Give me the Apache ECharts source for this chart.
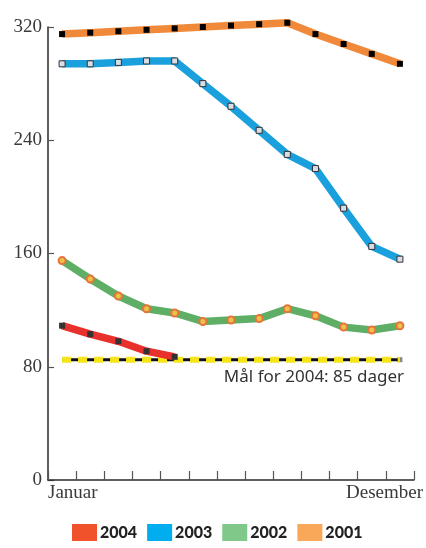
<!DOCTYPE html>
<html><head><meta charset="utf-8">
<script src="https://cdn.jsdelivr.net/npm/echarts@6/dist/echarts.min.js"></script>
<style>html,body{margin:0;padding:0;background:#fff}#c{width:426px;height:548px}</style>
</head><body><div id="c"></div>
<script>
const periods = ['1','2','3','4','5','6','7','8','9','10','11','12','13'];
const s2001 = [315, 316, 317, 318, 319, 320, 321, 322, 323, 315, 308, 301, 294];
const s2003 = [294, 294, 295, 296, 296, 280, 264, 247, 230, 220, 192, 165, 156];
const s2002 = [155, 142, 130, 121, 118, 112, 113, 114, 121, 116, 108, 106, 109];
const s2004 = [109, 103, 98, 91, 87];
const targetValue = 85;
const target = periods.map(() => targetValue);
const yTicks = [0, 80, 160, 240, 320];
const firstLabel = 'Januar', lastLabel = 'Desember';
const targetText = 'Mål for 2004: 85 dager';
const legendNames = ['2004', '2003', '2002', '2001'];

const chart = echarts.init(document.getElementById('c'));
const serif = 'Liberation Serif';
const axisCol = '#2a2a2a';
chart.setOption({
  animation: false,
  grid: { left: 48, right: 10, top: 27, bottom: 68 },
  xAxis: [
    { type: 'category', data: periods, boundaryGap: true, position: 'bottom', z: 10,
      axisLine: { show: true, lineStyle: { color: axisCol, width: 1.5 } },
      axisTick: { show: true, interval: 0, inside: true, length: 9, lineStyle: { color: '#555', width: 1.2 } },
      axisLabel: { show: true, interval: 0, formatter: () => '' }, splitLine: { show: false } },
    { type: 'value', min: 0, max: 13, interval: 13, position: 'bottom',
      axisLine: { show: false }, axisTick: { show: false }, splitLine: { show: false },
      axisLabel: { align: 'left', margin: 4, color: '#3a3a3a', fontFamily: serif, fontSize: 19,
        formatter: v => v === 0 ? firstLabel : '' } },
    { type: 'value', min: 0, max: 13, interval: 13, position: 'bottom',
      axisLine: { show: false }, axisTick: { show: false }, splitLine: { show: false },
      axisLabel: { align: 'right', margin: 4, padding: [0, -9, 0, 0], color: '#3a3a3a', fontFamily: serif, fontSize: 19,
        formatter: v => v === 13 ? lastLabel : '' } }
  ],
  yAxis: { type: 'value', min: yTicks[0], max: yTicks[yTicks.length - 1], interval: 80,
    axisLine: { show: true, lineStyle: { color: axisCol, width: 1.5 } },
    axisTick: { show: true, inside: true, length: 6, lineStyle: { color: '#555', width: 1.2 } },
    splitLine: { show: false },
    axisLabel: { margin: 6, color: '#3a3a3a', fontFamily: serif, fontSize: 19 } },
  legend: {
    bottom: 2, left: 67, itemWidth: 25, itemHeight: 17, itemGap: 10,
    icon: 'rect',
    textStyle: { fontFamily: 'Lato', fontWeight: 900, fontSize: 16, color: '#222', padding: [0, 0, 0, -2] },
    data: [
      { name: '2004', itemStyle: { color: '#f0522b', borderWidth: 0 } },
      { name: '2003', itemStyle: { color: '#00adee', borderWidth: 0 } },
      { name: '2002', itemStyle: { color: '#80c88a', borderWidth: 0 } },
      { name: '2001', itemStyle: { color: '#f9a85a', borderWidth: 0 } }
    ]
  },
  graphic: [{ type: 'text', right: 22, top: 369,
    style: { text: targetText, font: '17px "Noto Sans"', fill: '#333' } }],
  series: [
    { name: 'targetBlack', type: 'line', data: target.map((v, i) => i === target.length - 1 ? { value: v, symbol: 'rect', symbolSize: 5, itemStyle: { color: '#888' } } : v),
      symbol: 'none', showSymbol: true, lineStyle: { color: '#111', width: 3 }, z: 1, silent: true },
    { name: 'targetYellow', type: 'line', data: target, symbol: 'none',
      lineStyle: { color: '#f6e51a', width: 6, type: [9, 7], cap: 'butt' }, z: 2, silent: true },
    { name: '2001', type: 'line', data: s2001, z: 5, clip: false,
      lineStyle: { color: '#f08a3a', width: 7.5 }, symbol: 'rect', symbolSize: 6,
      itemStyle: { color: '#000', borderWidth: 0 } },
    { name: '2003', type: 'line', data: s2003, z: 5, clip: false,
      lineStyle: { color: '#1aa0dc', width: 7.5 }, symbol: 'rect', symbolSize: 6,
      itemStyle: { color: '#d8dde6', borderColor: '#333', borderWidth: 1 } },
    { name: '2002', type: 'line', data: s2002, z: 5, clip: false,
      lineStyle: { color: '#5fae66', width: 7.5 }, symbol: 'circle', symbolSize: 7,
      itemStyle: { color: '#e9c24a', borderColor: '#e8743a', borderWidth: 2 } },
    { name: '2004', type: 'line', data: s2004, z: 6, clip: false,
      lineStyle: { color: '#e8302c', width: 7.5 }, symbol: 'rect', symbolSize: 6,
      itemStyle: { color: '#333', borderWidth: 0 } }
  ]
});
</script></body></html>
